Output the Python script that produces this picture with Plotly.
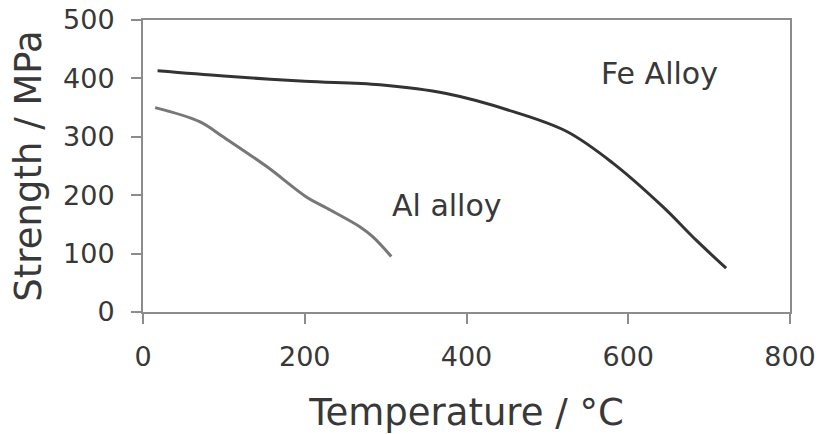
import plotly.graph_objects as go

# Data
fe_temp = [18, 100, 200, 293, 375, 458, 524, 581, 643, 684, 721]
fe_strength = [413, 404, 395, 389, 374, 343, 309, 255, 180, 123, 75]

al_temp = [15, 70, 99, 153, 202, 227, 268, 284, 307]
al_strength = [350, 326, 300, 249, 197, 178, 146, 129, 95]

x_ticks = [0, 200, 400, 600, 800]
y_ticks = [0, 100, 200, 300, 400, 500]

labels = [("Fe Alloy", 639, 408), ("Al alloy", 376, 183)]

FONT = "DejaVu Sans"
TEXT = "#383838"
AXIS = "#8c8c8c"

fig = go.Figure()
fig.add_trace(go.Scatter(x=fe_temp, y=fe_strength, mode="lines", line=dict(color="#333333", width=3, shape="spline"), name="Fe Alloy"))
fig.add_trace(go.Scatter(x=al_temp, y=al_strength, mode="lines", line=dict(color="#777777", width=3, shape="spline"), name="Al alloy"))

for text, x, y in labels:
    fig.add_annotation(x=x, y=y, text=text, showarrow=False, font=dict(family=FONT, size=30, color=TEXT))

fig.update_layout(
    width=825, height=434,
    margin=dict(l=143, r=35, t=20, b=122),
    paper_bgcolor="white", plot_bgcolor="white",
    showlegend=False,
    font=dict(family=FONT, color=TEXT),
)
fig.update_xaxes(
    range=[0, 800], tickvals=x_ticks, ticktext=[str(v) for v in x_ticks],
    automargin=False, ticklabeloverflow="allow",
    showgrid=False, zeroline=False, showline=True, linecolor=AXIS, linewidth=2, mirror=True,
    ticks="outside", ticklen=10, tickcolor=AXIS, tickwidth=2,
    tickfont=dict(family=FONT, size=27, color=TEXT), ticklabelstandoff=10,
    title=dict(text="Temperature / °C", font=dict(family=FONT, size=37, color=TEXT), standoff=29),
)
fig.update_yaxes(
    range=[0, 500], tickvals=y_ticks, ticktext=[str(v) for v in y_ticks],
    automargin=False, ticklabeloverflow="allow",
    showgrid=False, zeroline=False, showline=True, linecolor=AXIS, linewidth=2, mirror=True,
    ticks="outside", ticklen=10, tickcolor=AXIS, tickwidth=2,
    tickfont=dict(family=FONT, size=27, color=TEXT), ticklabelstandoff=11,
    title=dict(text="Strength / MPa", font=dict(family=FONT, size=37, color=TEXT), standoff=10),
)

fig.write_html("out.html", config={"displayModeBar": False}, post_script="document.body.style.margin='0';")
